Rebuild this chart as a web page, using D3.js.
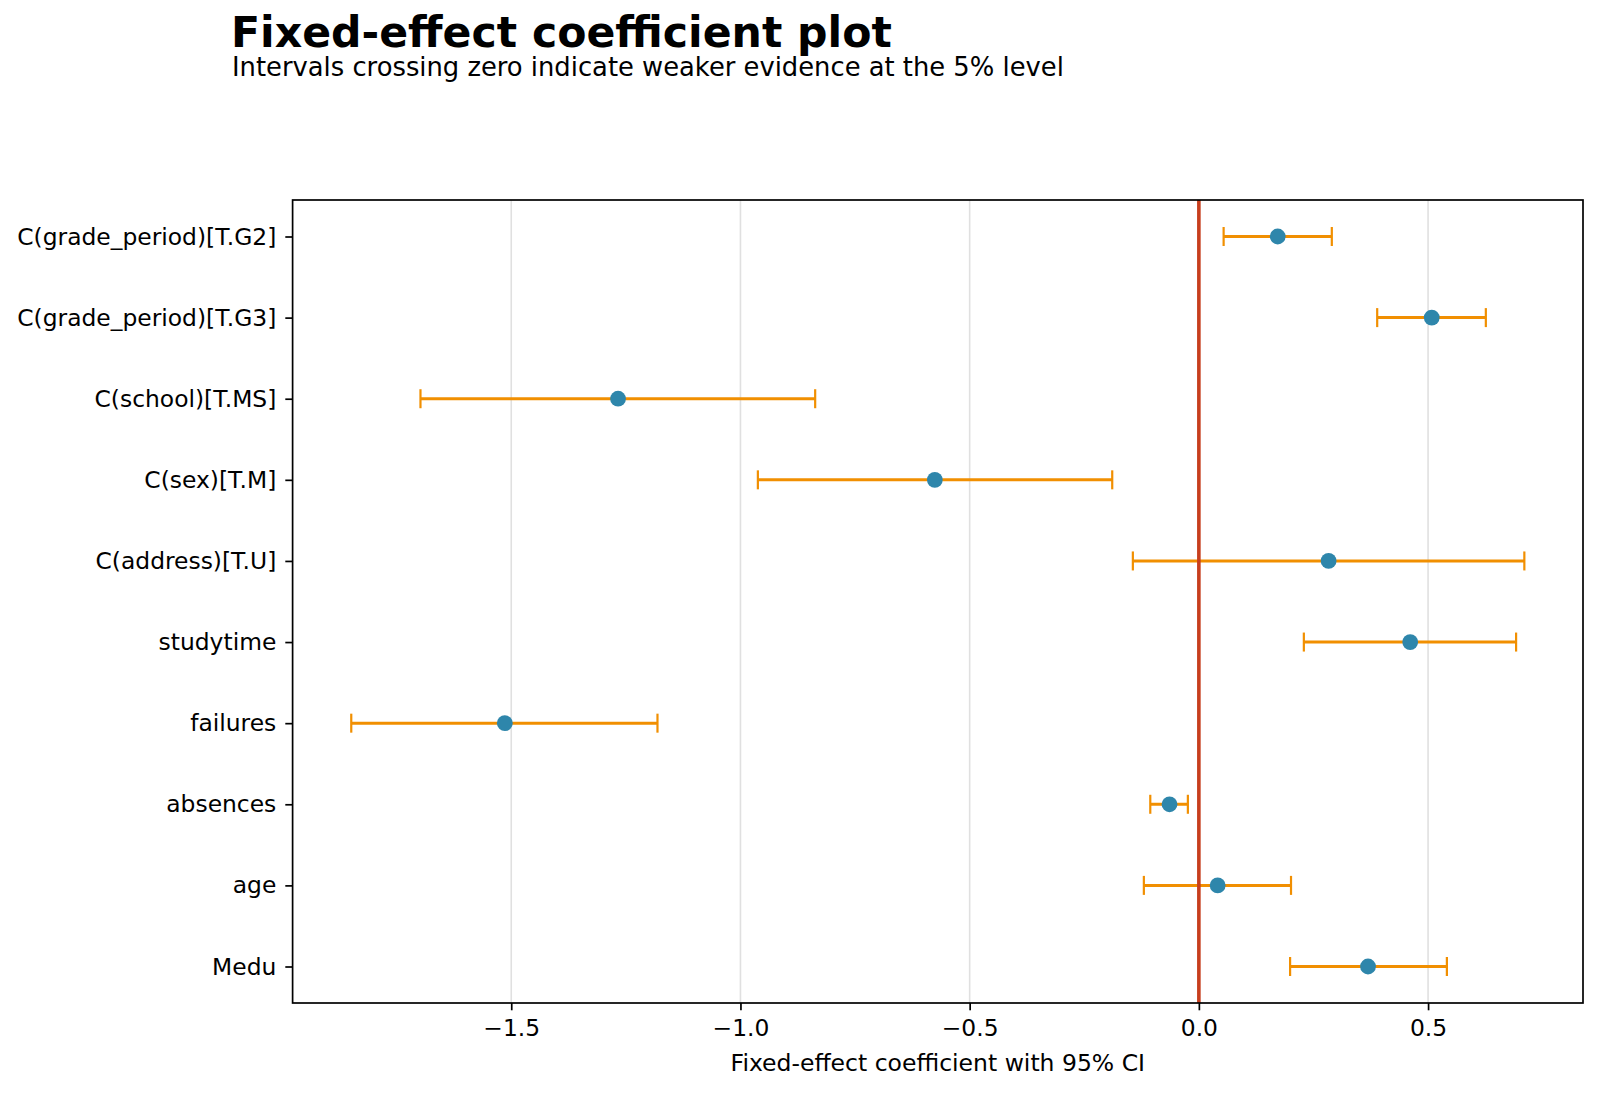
<!DOCTYPE html>
<html>
<head>
<meta charset="utf-8">
<script src="https://cdn.jsdelivr.net/npm/d3@7"></script>
<style>
  body { margin: 0; background: #fff; }
  svg { display: block; font-family: "DejaVu Sans", sans-serif; }
</style>
</head>
<body>
<div id="chart"></div>
<script>
// fixed-effect estimates, top to bottom as drawn
const terms = [
  'C(grade_period)[T.G2]',
  'C(grade_period)[T.G3]',
  'C(school)[T.MS]',
  'C(sex)[T.M]',
  'C(address)[T.U]',
  'studytime',
  'failures',
  'absences',
  'age',
  'Medu'
];
const coef  = [0.172, 0.508, -1.267, -0.576, 0.283, 0.461, -1.514, -0.064, 0.041, 0.369];
const lower = [0.054, 0.389, -1.698, -0.962, -0.144, 0.229, -1.849, -0.106, -0.120, 0.199];
const upper = [0.290, 0.626, -0.837, -0.189, 0.710, 0.692, -1.181, -0.024, 0.201, 0.541];
const xTicks = [-1.5, -1.0, -0.5, 0.0, 0.5];

const width = 1600;
const height = 1093;
const margin = { top: 200, right: 17, bottom: 90, left: 292.6 };

const rows = terms.map((t, i) => ({ term: t, est: coef[i], lo: lower[i], hi: upper[i] }));

const svg = d3
  .select('#chart')
  .append('svg')
  .attr('width', width)
  .attr('height', height);

// matplotlib style 5% margins around the data
const lo = d3.min(lower), hi = d3.max(upper);
const pad = (hi - lo) * 0.05;

const x = d3
  .scaleLinear()
  .domain([lo - pad, hi + pad])
  .range([margin.left, width - margin.right]);

const y = d3
  .scalePoint()
  .domain(terms)
  .range([margin.top, height - margin.bottom])
  .padding(0.45);

const plotTop = margin.top, plotBottom = height - margin.bottom;

// grid
svg.append('g')
  .selectAll('line')
  .data(xTicks)
  .join('line')
  .attr('x1', d => x(d)).attr('x2', d => x(d))
  .attr('y1', plotTop).attr('y2', plotBottom)
  .attr('stroke', '#e0e0e0')
  .attr('stroke-width', 1.6);

// error bars
const bars = svg.append('g').selectAll('g').data(rows).join('g');
bars.append('line')
  .attr('x1', d => x(d.lo)).attr('x2', d => x(d.hi))
  .attr('y1', d => y(d.term)).attr('y2', d => y(d.term))
  .attr('stroke', '#F18F01').attr('stroke-width', 3);
bars.selectAll('line.cap')
  .data(d => [[d.lo, d.term], [d.hi, d.term]])
  .join('line')
  .attr('class', 'cap')
  .attr('x1', d => x(d[0])).attr('x2', d => x(d[0]))
  .attr('y1', d => y(d[1]) - 9.5).attr('y2', d => y(d[1]) + 9.5)
  .attr('stroke', '#F18F01').attr('stroke-width', 2.2);

// zero reference
svg.append('line')
  .attr('x1', x(0)).attr('x2', x(0))
  .attr('y1', plotTop).attr('y2', plotBottom)
  .attr('stroke', '#C73E1D')
  .attr('stroke-width', 3.6);

// point estimates
svg.append('g')
  .selectAll('circle')
  .data(rows)
  .join('circle')
  .attr('cx', d => x(d.est))
  .attr('cy', d => y(d.term))
  .attr('r', 7.9)
  .attr('fill', '#2E86AB');

// axes
const xAxis = svg.append('g')
  .attr('transform', `translate(0,${plotBottom})`)
  .call(d3.axisBottom(x).tickValues(xTicks).tickFormat(d3.format('.1f')).tickSize(7.3).tickPadding(5));
const yAxis = svg.append('g')
  .attr('transform', `translate(${margin.left},0)`)
  .call(d3.axisLeft(y).tickSize(7.3).tickPadding(9));

[xAxis, yAxis].forEach(a => {
  a.select('.domain').remove();
  a.selectAll('.tick line').attr('stroke', '#000').attr('stroke-width', 1.7);
  a.selectAll('.tick text')
    .attr('fill', '#000')
    .style('font-size', '23.4px')
    .style('font-family', '"DejaVu Sans", sans-serif');
});
xAxis.selectAll('.tick text').attr('dy', '0.9em');

// frame
svg.append('rect')
  .attr('x', margin.left).attr('y', plotTop)
  .attr('width', width - margin.right - margin.left)
  .attr('height', plotBottom - plotTop)
  .attr('fill', 'none')
  .attr('stroke', '#000')
  .attr('stroke-width', 1.7);

// labels
svg.append('text')
  .attr('x', x(0.5 * (lo - pad + hi + pad)))
  .attr('y', 1071)
  .attr('text-anchor', 'middle')
  .style('font-size', '23.5px')
  .text('Fixed-effect coefficient with 95% CI');

svg.append('text')
  .attr('x', 231)
  .attr('y', 47)
  .style('font-size', '42.6px')
  .style('font-weight', 'bold')
  .text('Fixed-effect coefficient plot');

svg.append('text')
  .attr('x', 232)
  .attr('y', 76)
  .style('font-size', '25.8px')
  .text('Intervals crossing zero indicate weaker evidence at the 5% level');
</script>
</body>
</html>
